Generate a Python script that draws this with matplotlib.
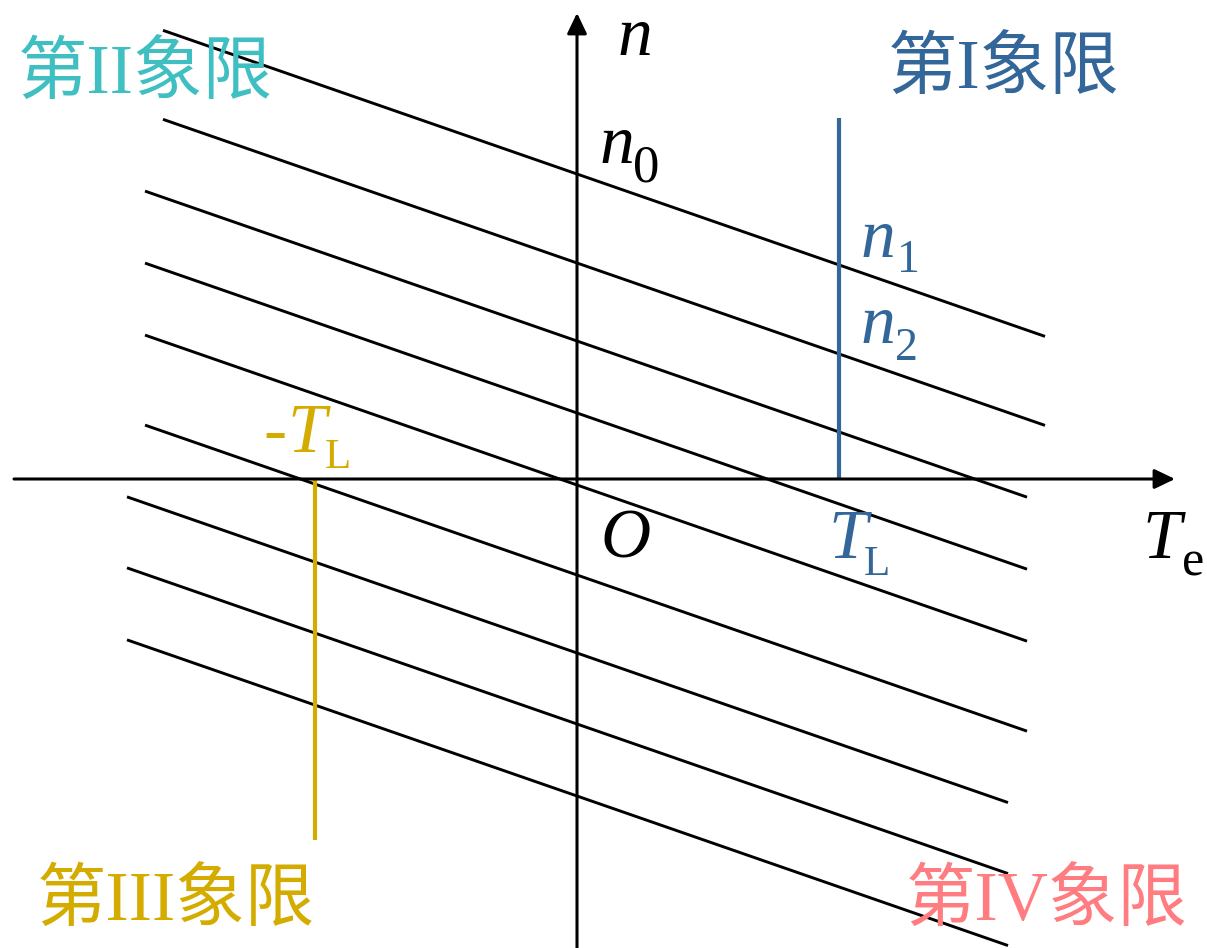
import numpy as np
import matplotlib.pyplot as plt

# mechanical characteristics n = n_k - k*Te, one per line
intercepts = [3.05, 2.16, 1.38, 0.66, -0.06, -0.96, -1.74, -2.45, -3.17]
t_start = [-4.14, -4.14, -4.32, -4.32, -4.32, -4.32, -4.50, -4.50, -4.50]
t_end = [4.68, 4.68, 4.50, 4.50, 4.50, 4.50, 4.31, 4.31, 4.31]
slope = 0.347

TL = 2.62            # load torque
n_top = 3.61         # top of the load line in quadrant I
n_bottom = -3.61     # bottom of the load line in quadrant III

quadrants = ["第I象限", "第II象限", "第III象限", "第IV象限"]
quad_colors = ["#336699", "#3FBFC2", "#D4AC00", "#FF7C80"]

fig = plt.figure(figsize=(12.07, 9.48), dpi=100)
ax = fig.add_axes([0, 0, 1, 1])
ax.set_xlim(-5.77, 6.30)
ax.set_ylim(-4.69, 4.79)
ax.axis("off")

serif = ["Liberation Serif", "Noto Sans CJK SC"]

# coordinate axes with arrows
arrow = dict(arrowstyle="-|>,head_length=1.25,head_width=0.6", color="black",
             lw=2.2, shrinkA=0, shrinkB=0, mutation_scale=10)
ax.annotate("", xy=(5.98, 0), xytext=(-5.63, 0), arrowprops=arrow)
ax.annotate("", xy=(0, 4.66), xytext=(0, -4.69), arrowprops=arrow)

for n0, a, b in zip(intercepts, t_start, t_end):
    t = np.array([a, b])
    ax.plot(t, n0 - slope * t, color="black", lw=2.1, solid_capstyle="butt")

ax.plot([TL, TL], [0, n_top], color=quad_colors[0], lw=3.0, solid_capstyle="butt")
ax.plot([-TL, -TL], [0, n_bottom], color=quad_colors[2], lw=3.0, solid_capstyle="butt")

# quadrant names
quad_pos = [(4.27, 4.08), (-4.32, 4.03), (-4.01, -4.24), (4.70, -4.24)]
for name, c, (x, y) in zip(quadrants, quad_colors, quad_pos):
    ax.text(x, y, name, color=c, fontsize=50, family=serif, ha="center", va="center")

def label(x, y, main, sub=None, color="black", size=50, subsize=32, dx=0.34, dy=-0.16):
    ax.text(x, y, main, color=color, fontsize=size, family=serif, style="italic",
            ha="left", va="baseline")
    if sub is not None:
        ax.text(x + dx, y + dy, sub, color=color, fontsize=subsize, family=serif,
                ha="left", va="baseline")

label(0.41, 4.24, "n")
label(0.23, 3.16, "n", "0", subsize=38, dx=0.33, dy=-0.19)
label(2.84, 2.22, "n", "1", color=quad_colors[0], subsize=33, dx=0.36, dy=-0.15)
label(2.84, 1.36, "n", "2", color=quad_colors[0], subsize=33, dx=0.34, dy=-0.17)
ax.text(-3.14, 0.27, "-", color=quad_colors[2], fontsize=50, family=serif,
        ha="left", va="baseline")
label(-2.90, 0.27, "T", "L", color=quad_colors[2], subsize=31, dx=0.38, dy=-0.16)
label(TL - 0.11, -0.79, "T", "L", color=quad_colors[0], subsize=31, dx=0.36, dy=-0.17)
label(5.65, -0.79, "T", "e", subsize=36, dx=0.40, dy=-0.17)
label(0.23, -0.79, "O")

plt.savefig("out.png", dpi=100)
